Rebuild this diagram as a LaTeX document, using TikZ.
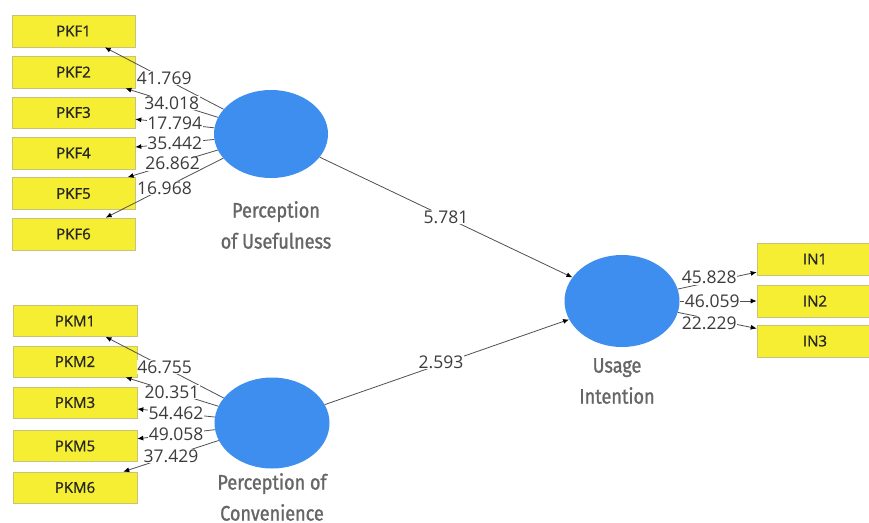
\documentclass[tikz,border=0pt]{standalone}
\usepackage{fontspec}
\setmainfont{Open Sans}
\newfontfamily\latfont[FakeStretch=0.86,FakeBold=1.2]{Fira Sans}
\newfontfamily\boxfont[FakeBold=1.0]{Open Sans}
\usetikzlibrary{arrows.meta,shapes.geometric}
\definecolor{boxyellow}{HTML}{F5EE32}
\definecolor{boxedge}{HTML}{C9C27A}
\definecolor{latblue}{HTML}{3D8EEE}
\definecolor{linegray}{HTML}{505050}
\definecolor{numgray}{HTML}{3C3C3C}
\definecolor{labgray}{HTML}{666666}
\tikzset{
  ind/.style={draw=boxedge, line width=0.6pt, fill=boxyellow, minimum height=31pt, inner sep=0pt, font=\boxfont\fontsize{15}{15}\selectfont, text=black!85},
  lat/.style={ellipse, fill=latblue, draw=none, inner sep=0pt},
  latlab/.style={align=center, font=\latfont\fontsize{21}{31}\selectfont, text=labgray, inner sep=0pt},
  conn/.style={draw=linegray, line width=0.8pt, -{Latex[length=6pt,width=5pt,color=black]}},
  val/.style={fill=white, inner sep=0.6pt, font=\fontsize{17.5}{17.5}\selectfont, text=numgray}
}
\begin{document}
\begin{tikzpicture}[x=1pt,y=-1pt]
\useasboundingbox (0,0) rectangle (869,522);
\fill[white] (0,0) rectangle (869,522);
% latent variables
\node[lat, minimum width=114pt, minimum height=88pt] (pu) at (271,134) {};
\node[lat, minimum width=115pt, minimum height=91pt] (pc) at (272,423) {};
\node[lat, minimum width=115pt, minimum height=92pt] (ui) at (622,301) {};
\node[latlab] (pul) at (276,225) {Perception\\of Usefulness};
\node[latlab] (pcl) at (272,497) {Perception of\\Convenience};
\node[latlab] (uil) at (617,381) {Usage\\Intention};
% indicators
\node[ind, minimum width=123pt, minimum height=32pt] (pkf1) at (73.5,31) {PKF1};
\node[ind, minimum width=123pt, minimum height=32pt] (pkf2) at (73.5,72) {PKF2};
\node[ind, minimum width=123pt, minimum height=31pt] (pkf3) at (73.5,112.5) {PKF3};
\node[ind, minimum width=123pt, minimum height=32pt] (pkf4) at (73.5,153) {PKF4};
\node[ind, minimum width=123pt, minimum height=32pt] (pkf5) at (73.5,193.5) {PKF5};
\node[ind, minimum width=123pt, minimum height=32pt] (pkf6) at (73.5,234) {PKF6};
\node[ind, minimum width=124pt] (pkm1) at (75,321) {PKM1};
\node[ind, minimum width=124pt] (pkm2) at (75,361.5) {PKM2};
\node[ind, minimum width=124pt] (pkm3) at (75,402.5) {PKM3};
\node[ind, minimum width=124pt] (pkm5) at (75,446) {PKM5};
\node[ind, minimum width=124pt] (pkm6) at (75,487.5) {PKM6};
\node[ind, minimum width=122pt, minimum height=32pt] (in1) at (818,259) {\hspace*{-6pt}IN1};
\node[ind, minimum width=122pt, minimum height=32pt] (in2) at (818,301) {\hspace*{-6pt}IN2};
\node[ind, minimum width=122pt, minimum height=32pt] (in3) at (818,341) {\hspace*{-6pt}IN3};
% loadings
\draw[conn] (pu) -- (pkf1) node[val, midway] {41.769};
\draw[conn] (pu) -- (pkf2) node[val, midway] {34.018};
\draw[conn] (pu) -- (pkf3) node[val, midway] {17.794};
\draw[conn] (pu) -- (pkf4) node[val, midway] {35.442};
\draw[conn] (pu) -- (pkf5) node[val, midway] {26.862};
\draw[conn] (pu) -- (pkf6) node[val, midway] {16.968};
\draw[conn] (pc) -- (pkm1) node[val, midway] {46.755};
\draw[conn] (pc) -- (pkm2) node[val, midway] {20.351};
\draw[conn] (pc) -- (pkm3) node[val, midway] {54.462};
\draw[conn] (pc) -- (pkm5) node[val, midway] {49.058};
\draw[conn] (pc) -- (pkm6) node[val, midway] {37.429};
\draw[conn] (ui) -- (in1) node[val, midway, xshift=-8pt, yshift=3pt] {45.828};
\draw[conn] (ui) -- (in2) node[val, midway, xshift=-6pt] {46.059};
\draw[conn] (ui) -- (in3) node[val, midway, xshift=-8pt, yshift=-3pt] {22.229};
% paths
\draw[conn] (pu) -- (ui) node[val, midway] {5.781};
\draw[conn] (pc) -- (ui) node[val, midway, xshift=-6pt] {2.593};
\end{tikzpicture}
\end{document}
